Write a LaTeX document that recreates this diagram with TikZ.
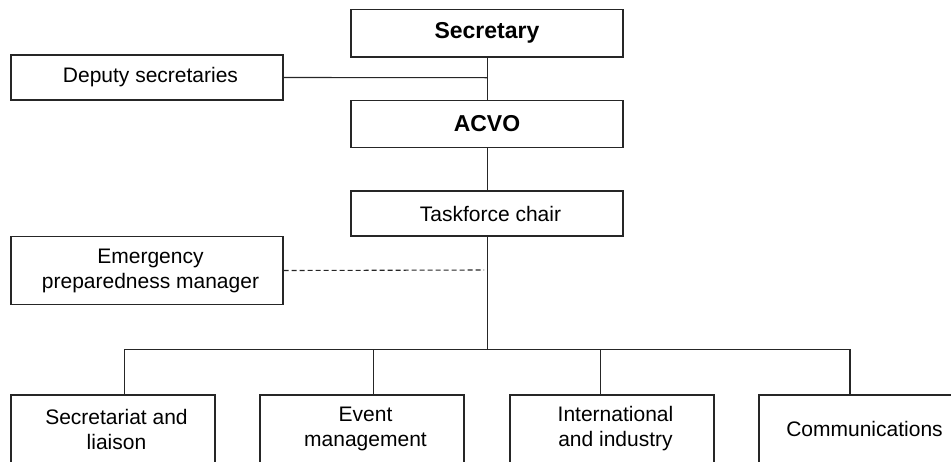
\documentclass[tikz,border=0pt]{standalone}
\usepackage{fontspec}
\setmainfont{Liberation Sans}
\begin{document}
\begin{tikzpicture}[x=1pt,y=-1pt,
  line width=1.1pt, draw=black!85,
  box/.style={draw=black!85, line width=1.1pt, rectangle, inner sep=0pt},
  wide/.style={box, minimum width=272pt},
  unit/.style={box, minimum width=204pt, minimum height=68pt},
  txt/.style={font=\fontsize{21}{25}\selectfont, align=center, xshift=3.5pt, text=black},
  head/.style={font=\fontsize{23}{27}\selectfont\bfseries, text=black},
  link/.style={draw=black!85, line width=1.1pt},
  dotted link/.style={link, dash pattern=on 5pt off 3pt}]
\useasboundingbox (0,0) rectangle (951,461);
\begin{scope}
\clip (0,0) rectangle (951,461);

% upper chain
\node[wide, minimum height=47.5pt, label={[head]center:Secretary}] (sec) at (487,33.25) {};
\node[wide, minimum height=46.6pt, label={[head]center:ACVO}] (acvo) at (487,124) {};
\node[wide, minimum height=45pt, label={[txt]center:Taskforce chair}] (task) at (487,213.5) {};

% side boxes
\node[wide, minimum height=45pt, label={[txt]center:Deputy secretaries}] (dep) at (147,77.5) {};
\node[wide, minimum height=67.6pt, label={[txt]center:{Emergency\\preparedness manager}}] (emer) at (147,270.5) {};

% units
\node[unit, label={[txt]center:{Secretariat and\\liaison}}] (u1) at (113,429) {};
\node[unit, label={[txt]center:{Event\\management}}] (u2) at (362,429) {};
\node[unit, label={[txt]center:{International\\and industry}}] (u3) at (612,429) {};
\node[unit, label={[txt]center:Communications}] (u4) at (861,429) {};

% junction points
\coordinate (j1) at (487.5,77.7);
\coordinate (j2) at (484,270);
\coordinate (bus) at (487.5,349.3);
\coordinate (d1) at (124.7,349.3);
\coordinate (d2) at (373.3,349.3);
\coordinate (d3) at (600.3,349.3);
\coordinate (d4) at (850,349.3);

% connectors
\draw[link] (sec.south -| j1) -- (acvo.north -| j1);
\draw[link] (dep.east) -- (j1);
\draw[link] (acvo.south -| j1) -- (task.north -| j1);
\draw[link] (task.south -| bus) -- (bus);
\draw[dotted link] (emer.east) -- (j2);
\draw[link] (d1) -- (d4);
\draw[link] (d1) -- (u1.north -| d1);
\draw[link] (d2) -- (u2.north -| d2);
\draw[link] (d3) -- (u3.north -| d3);
\draw[link] (d4) -- (u4.north -| d4);
\end{scope}
\end{tikzpicture}
\end{document}
